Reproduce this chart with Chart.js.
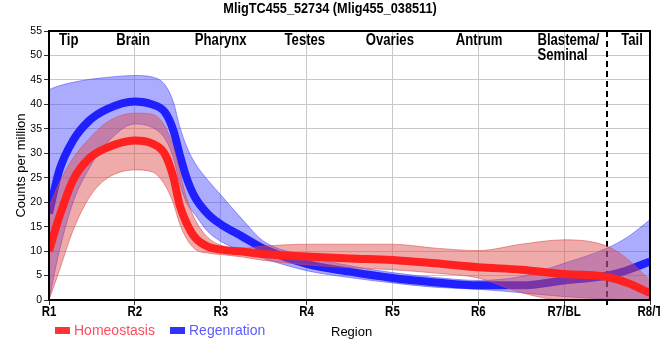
<!DOCTYPE html>
<html lang="en">
<head>
<meta charset="UTF-8" />
<title>MligTC455_52734 (Mlig455_038511)</title>
<script src="https://cdn.jsdelivr.net/npm/chart.js"></script>
<style>
  html, body { margin: 0; padding: 0; background: #fff; }
</style>
</head>
<body>
<canvas id="chart" width="660" height="360"></canvas>
<script>
// positions along the body, R1 = 1 ... R8/T = 8
const xPos      = [1, 1.12, 1.28, 1.47, 1.67, 2.0, 2.2, 2.35, 2.45, 2.52, 2.6, 2.7, 2.85, 3.0, 3.25, 3.5, 4.0, 4.5, 5.0, 5.5, 6.0, 6.5, 7.0, 7.5, 7.75, 8.0];

const homeoMean  = [10, 17, 24.5, 29, 31.1, 32.6, 32.0, 29.8, 25, 19.5, 15.8, 12.8, 10.9, 10.3, 9.9, 9.4, 8.9, 8.5, 8.2, 7.5, 6.7, 6.2, 5.3, 4.7, 3.4, 1.4];
const homeoUpper = [19, 24, 29, 33, 36.3, 38.2, 38, 35.5, 31.2, 26.5, 21, 16.5, 12.8, 11.2, 10.6, 11, 11.4, 11.4, 11.4, 10.6, 10.1, 11.4, 12.3, 11, 8.2, 4];
const homeoLower = [0, 6, 14.2, 21, 24.8, 26.6, 26.2, 23.5, 19.7, 15.7, 12.6, 10.4, 9.6, 9.3, 8.8, 8.1, 7.2, 6.6, 6.2, 5.5, 4.5, 1.5, 0, 0, 0, 0];

const regenMean  = [17.7, 26.5, 32.6, 36.7, 39, 40.6, 40.0, 38.4, 34.6, 29.9, 25.1, 21, 17.6, 15.5, 13, 10.5, 7.4, 5.8, 4.5, 3.6, 3.0, 3.0, 4.0, 5.0, 6.2, 7.9];
const regenUpper = [43, 43.8, 44.5, 45.1, 45.5, 45.9, 45.6, 44, 40.4, 35.6, 31.5, 28, 24.5, 21.5, 16.5, 12, 9, 7, 5.6, 4.6, 4.0, 4.8, 7.5, 10.6, 13, 16.4];
const regenLower = [0, 10, 20, 27, 32, 36, 35.3, 33, 29, 24, 20, 17.5, 14, 12, 10, 8.5, 6.0, 4.6, 3.5, 2.6, 2.2, 1.5, 0.7, 0.2, 0, 0];

const xTickLabels = ['R1', 'R2', 'R3', 'R4', 'R5', 'R6', 'R7/BL', 'R8/T'];
const yTicks = [0, 5, 10, 15, 20, 25, 30, 35, 40, 45, 50, 55];

const regionNames = ['Tip', 'Brain', 'Pharynx', 'Testes', 'Ovaries', 'Antrum', 'Blastema/\nSeminal', 'Tail'];
const regionAt    = [1.23, 1.98, 3.0, 3.98, 4.97, 6.01, 7.05, 7.79];
const tailBoundary = 7.5;

const SANS = '"Liberation Sans", Arial, sans-serif';
const SQUEEZE = 0.82; // no narrow face installed, so squeeze the sans horizontally

function narrowText(ctx, text, x, y, align) {
  ctx.save();
  ctx.translate(x, y);
  ctx.scale(SQUEEZE, 1);
  ctx.textAlign = align;
  ctx.fillText(text, 0, 0);
  ctx.restore();
}

function pts(vals) {
  return xPos.map((x, i) => ({ x: x, y: vals[i] }));
}

// frame, dashed tail line, title, region names, x labels, legend row
const decorations = {
  id: 'decorations',
  beforeDatasetsDraw(chart) {
    const { ctx, chartArea: a, scales: { x } } = chart;
    ctx.save();
    ctx.strokeStyle = '#000';
    ctx.lineWidth = 2;
    ctx.setLineDash([6, 4]);
    const dx = Math.round(x.getPixelForValue(tailBoundary));
    ctx.beginPath();
    ctx.moveTo(dx, a.top);
    ctx.lineTo(dx, a.bottom + 5);
    ctx.stroke();
    ctx.restore();
  },
  afterDraw(chart) {
    const { ctx, chartArea: a, scales: { x } } = chart;
    ctx.save();
    ctx.strokeStyle = '#000';
    ctx.lineWidth = 2;
    ctx.strokeRect(a.left, a.top, a.right - a.left, a.bottom - a.top);

    ctx.fillStyle = '#000';
    ctx.textBaseline = 'middle';

    ctx.font = 'bold 15.5px ' + SANS;
    narrowText(ctx, 'MligTC455_52734 (Mlig455_038511)', chart.width / 2, 9, 'center');

    ctx.font = 'bold 16px ' + SANS;
    regionNames.forEach((name, i) => {
      const lines = name.split('\n');
      const cx = x.getPixelForValue(regionAt[i]);
      const left = cx - ctx.measureText(lines[0]).width * SQUEEZE / 2;
      lines.forEach((ln, j) => narrowText(ctx, ln, left, a.top + 10 + j * 15, 'left'));
    });

    ctx.font = 'bold 14px ' + SANS;
    xTickLabels.forEach((t, i) => narrowText(ctx, t, x.getPixelForValue(i + 1), a.bottom + 12, 'center'));

    // legend
    ctx.font = '14px ' + SANS;
    ctx.textAlign = 'left';
    const legend = [
      { label: chart.data.datasets[5].label, box: '#ff3535', text: '#ff4d5e', x: 55 },
      { label: chart.data.datasets[2].label, box: '#3232ff', text: '#5c5cff', x: 170 }
    ];
    legend.forEach(it => {
      ctx.fillStyle = it.box;
      ctx.fillRect(it.x, 327, 15, 7);
      ctx.fillStyle = it.text;
      ctx.fillText(it.label, it.x + 19, 331);
    });

    ctx.fillStyle = '#000';
    ctx.font = '13px ' + SANS;
    ctx.fillText('Region', 331, 332);
    ctx.restore();
  }
};

const bandBase = { pointRadius: 0, borderWidth: 1, cubicInterpolationMode: 'monotone', clip: 0 };

new Chart(document.getElementById('chart'), {
  type: 'line',
  data: {
    datasets: [
      Object.assign({ label: 'regenLower', data: pts(regenLower), borderColor: 'rgba(70,70,255,0.55)', fill: false, order: 6 }, bandBase),
      Object.assign({ label: 'regenUpper', data: pts(regenUpper), borderColor: 'rgba(70,70,255,0.55)', backgroundColor: 'rgba(70,70,255,0.45)', fill: 0, order: 5 }, bandBase),
      { label: 'Regenration', data: pts(regenMean), borderColor: '#2020ff', borderWidth: 8, pointRadius: 0, cubicInterpolationMode: 'monotone', fill: false, clip: 0, order: 4, borderCapStyle: 'butt' },
      Object.assign({ label: 'homeoLower', data: pts(homeoLower), borderColor: 'rgba(220,75,75,0.55)', fill: false, order: 3 }, bandBase),
      Object.assign({ label: 'homeoUpper', data: pts(homeoUpper), borderColor: 'rgba(220,75,75,0.55)', backgroundColor: 'rgba(220,75,75,0.47)', fill: 3, order: 2 }, bandBase),
      { label: 'Homeostasis', data: pts(homeoMean), borderColor: '#ff2020', borderWidth: 8, pointRadius: 0, cubicInterpolationMode: 'monotone', fill: false, clip: 0, order: 1, borderCapStyle: 'butt' }
    ]
  },
  options: {
    responsive: false,
    animation: false,
    devicePixelRatio: 1,
    layout: { padding: { left: 0, right: 10, top: 31, bottom: 0 } },
    plugins: {
      legend: { display: false },
      tooltip: { enabled: false },
      title: { display: false }
    },
    scales: {
      x: {
        type: 'linear',
        min: 1,
        max: 8,
        afterBuildTicks: s => { s.ticks = xTickLabels.map((t, i) => ({ value: i + 1 })); },
        afterFit: s => { s.height = 60; s.paddingLeft = 0; s.paddingRight = 0; },
        ticks: { display: false },
        grid: { color: '#c8c8c8', tickColor: '#333', tickLength: 5 },
        border: { color: '#000', width: 2 }
      },
      y: {
        min: 0,
        max: 55,
        afterBuildTicks: s => { s.ticks = yTicks.map(v => ({ value: v })); },
        afterFit: s => { s.width = 49; s.paddingTop = 0; s.paddingBottom = 0; },
        ticks: {
          padding: 2,
          color: '#000',
          font: { family: SANS, size: 10.5 }
        },
        grid: { color: '#c8c8c8', tickColor: '#333', tickLength: 5 },
        border: { color: '#000', width: 2 },
        title: {
          display: true,
          text: 'Counts per million',
          color: '#000',
          font: { family: SANS, size: 13 },
          padding: { top: 14, bottom: 0 }
        }
      }
    }
  },
  plugins: [decorations]
});
</script>
</body>
</html>
